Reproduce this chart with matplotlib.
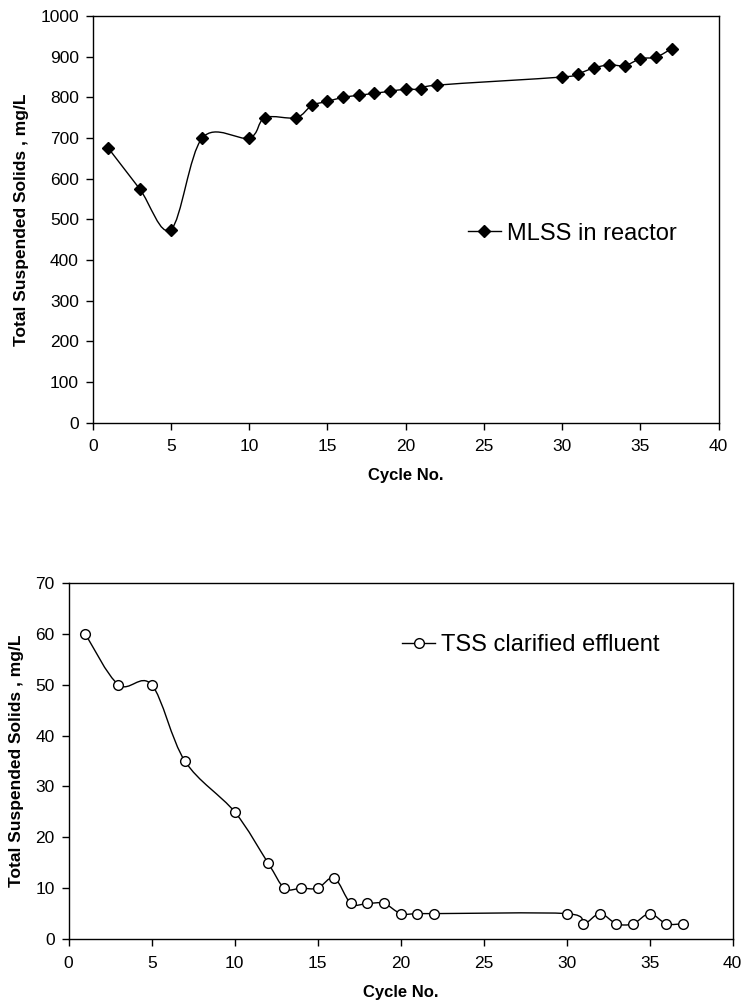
import matplotlib
matplotlib.use("Agg")
import matplotlib.pyplot as plt
from matplotlib.path import Path
from matplotlib.patches import PathPatch
from matplotlib.lines import Line2D

plt.rcParams['font.family'] = ['Liberation Sans', 'DejaVu Sans']

# MLSS in reactor (mg/L)
mlss_cycle = [1, 3, 5, 7, 10, 11, 13, 14, 15, 16, 17, 18, 19, 20, 21, 22,
              30, 31, 32, 33, 34, 35, 36, 37]
mlss = [675, 575, 475, 700, 700, 750, 750, 780, 790, 800, 805, 810, 815, 820,
        820, 830, 850, 858, 872, 880, 878, 895, 899, 920]

# TSS in clarified effluent (mg/L)
tss_cycle = [1, 3, 5, 7, 10, 12, 13, 14, 15, 16, 17, 18, 19, 20, 21, 22,
             30, 31, 32, 33, 34, 35, 36, 37]
tss = [60, 50, 50, 35, 25, 15, 10, 10, 10, 12, 7, 7, 7, 5, 5, 5,
       5, 3, 5, 3, 3, 5, 3, 3]

x_ticks = [0, 5, 10, 15, 20, 25, 30, 35, 40]
ylabel = "Total Suspended Solids , mg/L"
xlabel = "Cycle No."


def smooth_path(xs, ys):
    # Catmull-Rom style Bezier through every point (spreadsheet "smoothed line")
    pts = list(zip(xs, ys))
    n = len(pts)
    verts = [pts[0]]
    codes = [Path.MOVETO]
    for i in range(n - 1):
        p0 = pts[i - 1] if i > 0 else pts[i]
        p1 = pts[i]
        p2 = pts[i + 1]
        p3 = pts[i + 2] if i + 2 < n else pts[i + 1]
        c1 = (p1[0] + (p2[0] - p0[0]) / 6, p1[1] + (p2[1] - p0[1]) / 6)
        c2 = (p2[0] - (p3[0] - p1[0]) / 6, p2[1] - (p3[1] - p1[1]) / 6)
        verts += [c1, c2, p2]
        codes += [Path.CURVE4] * 3
    return Path(verts, codes)


def style_axes(ax, ymax, ystep):
    ax.set_xlim(0, 40)
    ax.set_ylim(0, ymax)
    ax.set_xticks(x_ticks)
    ax.set_yticks(range(0, ymax + 1, ystep))
    ax.tick_params(direction='out', length=5, width=1, labelsize=12.5,
                   colors='black')
    ax.tick_params(axis='x', pad=7)
    ax.tick_params(axis='y', pad=5)
    for s in ax.spines.values():
        s.set_linewidth(1)
        s.set_color('black')
    ax.set_xlabel(xlabel, fontsize=12, fontweight='bold', labelpad=10)
    ax.set_ylabel(ylabel, fontsize=12.5, fontweight='bold', labelpad=8)


fig = plt.figure(figsize=(7.44, 10.07), dpi=100)

# top: MLSS
ax1 = fig.add_axes([0.1246, 0.5802, 0.8414, 0.4039])
ax1.add_patch(PathPatch(smooth_path(mlss_cycle, mlss), fill=False,
                        edgecolor='black', lw=1))
ax1.plot(mlss_cycle, mlss, ls='none', marker='D', ms=6.5, color='black')
style_axes(ax1, 1000, 100)
h1 = Line2D([], [], color='black', lw=1, marker='D', ms=6.5)
ax1.legend([h1], ["MLSS in reactor"], loc='center left',
           bbox_to_anchor=(0.565, 0.465), frameon=False, fontsize=17,
           handlelength=1.4, handletextpad=0.25)

# bottom: TSS
ax2 = fig.add_axes([0.0923, 0.0675, 0.8925, 0.3535])
ax2.add_patch(PathPatch(smooth_path(tss_cycle, tss), fill=False,
                        edgecolor='black', lw=1))
ax2.plot(tss_cycle, tss, ls='none', marker='o', ms=7, mfc='white',
         mec='black', mew=1)
style_axes(ax2, 70, 10)
h2 = Line2D([], [], color='black', lw=1, marker='o', ms=7, mfc='white',
            mec='black', mew=1)
ax2.legend([h2], ["TSS clarified effluent"], loc='center left',
           bbox_to_anchor=(0.47, 0.825), frameon=False, fontsize=17,
           handlelength=1.4, handletextpad=0.25)

fig.savefig("out.png", dpi=100)
